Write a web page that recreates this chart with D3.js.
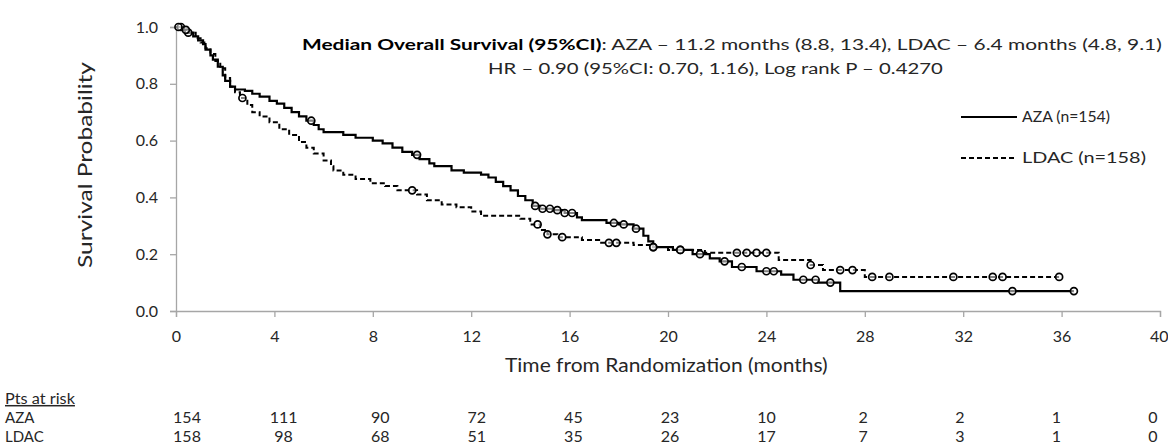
<!DOCTYPE html>
<html><head><meta charset="utf-8">
<script src="https://cdn.jsdelivr.net/npm/d3@7"></script>
<style>body{margin:0;background:#fff}svg{display:block}text{font-family:Lato,"Open Sans",sans-serif}</style>
</head><body>
<svg id="c" width="1168" height="445"></svg>
<script>
// ---------- data ----------
const xTicks = [0,4,8,12,16,20,24,28,32,36,40];
const yTicks = [0,0.2,0.4,0.6,0.8,1.0];

const azaTime = [0,0.3,0.5,0.7,0.9,1.1,1.2,1.4,1.5,1.7,1.9,2.0,2.2,2.4,2.8,3.1,3.4,3.8,4.1,4.4,4.7,5.0,5.3,5.6,5.8,6.0,6.8,7.3,8.0,8.4,8.8,9.2,9.6,9.9,10.3,10.5,11.2,11.7,12.4,12.7,13.0,13.3,13.6,13.9,14.2,14.5,14.8,15.3,15.8,16.3,16.5,17.5,18.0,18.6,19.0,19.2,19.4,20.2,21.0,21.7,22.1,22.6,23.6,24.6,25.1,26.1,27.0];
const azaSurv = [1.0,0.99,0.98,0.967,0.953,0.94,0.92,0.90,0.885,0.86,0.83,0.81,0.79,0.78,0.775,0.765,0.755,0.74,0.73,0.715,0.70,0.685,0.67,0.655,0.64,0.63,0.62,0.61,0.60,0.59,0.575,0.56,0.55,0.535,0.52,0.51,0.495,0.487,0.48,0.47,0.455,0.44,0.425,0.405,0.39,0.37,0.36,0.355,0.345,0.33,0.32,0.31,0.305,0.29,0.265,0.245,0.225,0.215,0.20,0.185,0.175,0.155,0.14,0.128,0.11,0.10,0.07];
const azaEnd = 36.5;
const azaCensor = [0.2,0.5,5.5,9.8,14.6,14.9,15.2,15.5,15.8,16.1,17.8,18.2,18.7,19.4,20.5,21.3,22.3,23.0,24.0,24.3,25.5,26.0,26.6,34.0,36.5];

const ldacTime = [0,0.3,0.5,0.8,1.0,1.2,1.4,1.6,1.8,2.0,2.2,2.4,2.6,2.9,3.1,3.4,3.8,4.2,4.6,5.0,5.3,5.6,6.0,6.3,6.4,6.8,7.3,7.9,8.5,9.0,9.8,10.2,10.8,11.4,12.0,12.4,14.0,14.4,14.8,15.1,15.5,16.5,17.2,18.6,19.3,20.0,21.5,24.5,25.8,26.3,28.0];
const ldacSurv = [1.0,0.99,0.98,0.96,0.945,0.925,0.905,0.88,0.855,0.82,0.79,0.77,0.75,0.725,0.70,0.685,0.665,0.64,0.62,0.595,0.575,0.555,0.53,0.51,0.495,0.48,0.465,0.45,0.44,0.425,0.41,0.39,0.375,0.365,0.35,0.335,0.325,0.305,0.285,0.27,0.26,0.25,0.24,0.232,0.225,0.215,0.205,0.18,0.162,0.144,0.12];
const ldacEnd = 36.0;
const ldacCensor = [0.1,0.4,2.7,9.6,14.7,15.1,15.7,17.6,17.9,19.4,20.5,22.8,23.2,23.6,24.0,25.8,27.0,27.5,28.3,29.0,31.6,33.2,33.6,35.9];

const riskGroups = ["AZA","LDAC"];
const azaRisk = [154,111,90,72,45,23,10,2,2,1,0];
const ldacRisk = [158,98,68,51,35,26,17,7,3,1,0];

const titleBold = "Median Overall Survival (95%CI)";
const titleRest = ": AZA \u2013 11.2 months (8.8, 13.4), LDAC \u2013 6.4 months (4.8, 9.1)";
const title2 = "HR \u2013 0.90 (95%CI: 0.70, 1.16), Log rank P \u2013 0.4270";
const legendLabels = ["AZA (n=154)","LDAC (n=158)"];

// ---------- drawing ----------
const svg = d3.select("#c");
const x = d3.scaleLinear().domain([0,40]).range([176,1160]);
const y = d3.scaleLinear().domain([0,1]).range([311,27]);
const xr = d3.scaleLinear().domain([0,40]).range([187,1153]);
const axisCol = "#a6a6a6", txtCol = "#262626";

// stretch a text horizontally so it spans [x0, x0+w]
function fit(sel, x0, w){
  const L = sel.node().getComputedTextLength();
  const yy = +sel.attr("y");
  sel.attr("x",0).attr("y",0).attr("text-anchor","start")
     .attr("transform",`translate(${x0},${yy}) scale(${w/L},1)`);
}

// axes
const gx = svg.append("g").attr("transform",`translate(0,${y(0)})`)
  .call(d3.axisBottom(x).tickValues(xTicks).tickSize(6).tickPadding(14).tickFormat(d3.format("d")));
const gy = svg.append("g").attr("transform",`translate(${x(0)},0)`)
  .call(d3.axisLeft(y).tickValues(yTicks).tickSize(6).tickPadding(12).tickFormat(d3.format(".1f")));
[gx,gy].forEach(g=>{
  g.select(".domain").attr("stroke",axisCol).attr("stroke-width",1.3);
  g.selectAll(".tick line").attr("stroke",axisCol).attr("stroke-width",1.3);
  g.selectAll(".tick text").attr("fill",txtCol).style("font-size","16px").style("font-family","Lato");
});
gx.selectAll(".tick text").filter(d=>d===40).attr("text-anchor","end").attr("dx",8);

// axis titles
const xt = svg.append("text").attr("x",505).attr("y",372)
  .style("font-size","19px").attr("fill",txtCol).text("Time from Randomization (months)");
fit(xt,505,323);
const yt = svg.append("text").attr("x",0).attr("y",0).attr("text-anchor","middle")
  .style("font-size","19px").attr("fill",txtCol).text("Survival Probability");
const yL = yt.node().getComputedTextLength();
yt.attr("transform",`translate(92,165) rotate(-90) scale(${206/yL},1)`);

// curves
function series(times,surv,end){
  const pts = times.map((t,i)=>[t,surv[i]]);
  pts.push([end,surv[surv.length-1]]);
  return pts;
}
function survAt(times,surv,t){
  let s = surv[0];
  for(let i=0;i<times.length;i++){ if(times[i]<=t) s=surv[i]; }
  return s;
}
const line = d3.line().x(d=>x(d[0])).y(d=>y(d[1])).curve(d3.curveStepAfter);
svg.append("path").datum(series(ldacTime,ldacSurv,ldacEnd)).attr("d",line)
  .attr("fill","none").attr("stroke","#000").attr("stroke-width",2).attr("stroke-dasharray","5,3");
svg.append("path").datum(series(azaTime,azaSurv,azaEnd)).attr("d",line)
  .attr("fill","none").attr("stroke","#000").attr("stroke-width",2.2);

function censor(times,surv,cs){
  svg.append("g").selectAll("circle").data(cs).join("circle")
    .attr("cx",d=>x(d)).attr("cy",d=>y(survAt(times,surv,d))).attr("r",3.5)
    .attr("fill","#fff").attr("fill-opacity",0.5).attr("stroke","#000").attr("stroke-width",1.7);
}
censor(azaTime,azaSurv,azaCensor);
censor(ldacTime,ldacSurv,ldacCensor);

// title
const t1 = svg.append("text").attr("x",302).attr("y",50)
  .style("font-size","15px").attr("fill","#000");
t1.append("tspan").style("font-weight","bold").text(titleBold);
t1.append("tspan").attr("fill",txtCol).text(titleRest);
fit(t1,302,860);
const t2 = svg.append("text").attr("x",488).attr("y",74)
  .style("font-size","15px").attr("fill",txtCol).text(title2);
fit(t2,488,455);

// legend
const lg = svg.append("g");
const legW = [88,124];
[0,1].forEach(i=>{
  const yy = i===0?117:158;
  lg.append("line").attr("x1",961).attr("x2",1017).attr("y1",yy).attr("y2",yy)
    .attr("stroke","#000").attr("stroke-width",2).attr("stroke-dasharray",i===0?null:"5,3");
  const lt = lg.append("text").attr("x",1022).attr("y",yy+5).style("font-size","15px").attr("fill",txtCol).text(legendLabels[i]);
  fit(lt,1022,legW[i]);
});

// risk table
const pr = svg.append("text").attr("x",5).attr("y",404).style("font-size","15px").attr("fill",txtCol)
  .attr("text-decoration","underline").text("Pts at risk");
fit(pr,5,70);
const riskRows = [azaRisk,ldacRisk];
riskRows.forEach((row,ri)=>{
  const yy = ri===0?423:442;
  svg.append("text").attr("x",5).attr("y",yy).style("font-size","15px").attr("fill",txtCol).text(riskGroups[ri]);
  svg.append("g").selectAll("text").data(row).join("text")
    .attr("x",(d,i)=>xr(xTicks[i])).attr("y",yy).attr("text-anchor","middle")
    .style("font-size","16px").attr("fill",txtCol).text(d=>d);
});
</script>
</body></html>
